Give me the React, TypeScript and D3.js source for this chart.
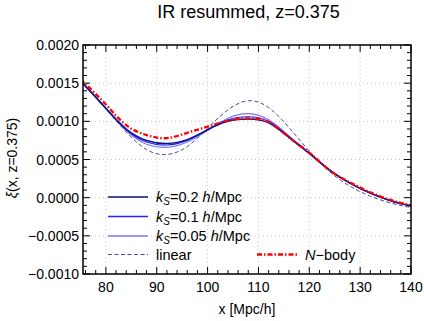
import React from 'react';
import * as d3 from 'd3';

// separation x in Mpc/h
const xs = [75, 76, 80, 84, 88, 92, 96, 100, 104, 108, 112, 116, 120, 124, 128, 132, 136, 140];

// xi(x) for each curve
const ks02 = [0.00151, 0.00146, 0.00117, 0.00090, 0.00075, 0.00071, 0.00076, 0.00089, 0.00100, 0.00103, 0.00098, 0.00079, 0.00058, 0.00036, 0.00019, 0.00006, -0.00004, -0.00011];
const ks01 = [0.00151, 0.00146, 0.00117, 0.00089, 0.00073, 0.00069, 0.00075, 0.00089, 0.00102, 0.00106, 0.00100, 0.00080, 0.00058, 0.00036, 0.00019, 0.00006, -0.00004, -0.00011];
const ks005 = [0.00151, 0.00146, 0.00117, 0.00088, 0.00070, 0.00066, 0.00073, 0.00088, 0.00104, 0.00110, 0.00102, 0.00081, 0.00058, 0.00036, 0.00019, 0.00006, -0.00004, -0.00011];
const linear = [0.00150, 0.00145, 0.00116, 0.00086, 0.00063, 0.000565, 0.00067, 0.00091, 0.00115, 0.00127, 0.00118, 0.00092, 0.00061, 0.00034, 0.00015, 0.00002, -0.00007, -0.00013];
const nbody = [0.00155, 0.00149, 0.00122, 0.00095, 0.00082, 0.00078, 0.00085, 0.00093, 0.00101, 0.00104, 0.00099, 0.00079, 0.00059, 0.00036, 0.00020, 0.00007, -0.00003, -0.00010];

const xTicks = [80, 90, 100, 110, 120, 130, 140];
const yTicks = [-0.001, -0.0005, 0, 0.0005, 0.001, 0.0015, 0.002];

const W = 424;
const H = 321;
const m = { left: 83, top: 45, right: 13, bottom: 47 };
const font = 'Liberation Sans, Arial, Helvetica, sans-serif';

const App = () => {
  const x = d3.scaleLinear().domain([75.5, 140]).range([m.left, W - m.right]);
  const y = d3.scaleLinear().domain([-0.001, 0.002]).range([H - m.bottom, m.top]);
  const x0 = m.left, x1 = W - m.right, y0 = H - m.bottom, y1 = m.top;

  const line = (vals: number[]) =>
    d3.line<number>().x((_, i) => x(xs[i])).y(d => y(d)).curve(d3.curveNatural)(vals) || '';

  const xMinor = d3.range(76, 140.01, 2).filter(v => !xTicks.includes(v));
  const yMinor = d3.range(-10, 20.01, 1).filter(v => v % 5 !== 0).map(v => v * 0.0001);

  const series = [
    { vals: linear, color: '#4848a8', width: 1, dash: '4,2.5' },
    { vals: ks005, color: '#7878ff', width: 1.2, dash: '' },
    { vals: ks01, color: '#2424f0', width: 1.2, dash: '' },
    { vals: ks02, color: '#10108a', width: 1.5, dash: '' },
    { vals: nbody, color: '#ff0000', width: 2.3, dash: '5,2,1.5,2' },
  ];

  const legend = [
    { label: 'ks', ks: '0.2', color: '#10108a', width: 1.5, dash: '', lx: 108, ly: 197 },
    { label: 'ks', ks: '0.1', color: '#2424f0', width: 1.5, dash: '', lx: 108, ly: 216.5 },
    { label: 'ks', ks: '0.05', color: '#7878ff', width: 1.5, dash: '', lx: 108, ly: 236 },
    { label: 'linear', ks: '', color: '#4848a8', width: 1, dash: '4,2.5', lx: 108, ly: 254.5 },
    { label: 'nbody', ks: '', color: '#ff0000', width: 2.3, dash: '5,2,1.5,2', lx: 257, ly: 254.5 },
  ];

  return (
    <svg width={W} height={H} style={{ position: 'absolute', left: 0, top: 0, background: '#fff' }} fontFamily={font}>
      <defs>
        <clipPath id="plot">
          <rect x={x0} y={y1} width={x1 - x0} height={y0 - y1} />
        </clipPath>
      </defs>
      <text x={248.5} y={18} textAnchor="middle" fontSize={18}>IR resummed, z=0.375</text>

      {/* grid */}
      {xTicks.slice(0, -1).map(t => (
        <line key={'gx' + t} x1={x(t)} x2={x(t)} y1={y0} y2={y1} stroke="#c8c8c8" strokeDasharray="1,3" />
      ))}
      {yTicks.slice(1, -1).map(t => (
        <line key={'gy' + t} x1={x0} x2={x1} y1={y(t)} y2={y(t)} stroke="#c8c8c8" strokeDasharray="1,3" />
      ))}

      {/* curves */}
      <g clipPath="url(#plot)" fill="none">
        {series.map((s, i) => (
          <path key={i} d={line(s.vals)} stroke={s.color} strokeWidth={s.width} strokeDasharray={s.dash} />
        ))}
      </g>

      {/* ticks, all four sides, pointing in */}
      <g stroke="#000" strokeWidth={1}>
        {xTicks.map(t => (
          <g key={'tx' + t}>
            <line x1={x(t)} x2={x(t)} y1={y0} y2={y0 - 7} />
            <line x1={x(t)} x2={x(t)} y1={y1} y2={y1 + 7} />
          </g>
        ))}
        {xMinor.map(t => (
          <g key={'mx' + t}>
            <line x1={x(t)} x2={x(t)} y1={y0} y2={y0 - 4} />
            <line x1={x(t)} x2={x(t)} y1={y1} y2={y1 + 4} />
          </g>
        ))}
        {yTicks.map(t => (
          <g key={'ty' + t}>
            <line x1={x0} x2={x0 + 7} y1={y(t)} y2={y(t)} />
            <line x1={x1} x2={x1 - 7} y1={y(t)} y2={y(t)} />
          </g>
        ))}
        {yMinor.map(t => (
          <g key={'my' + t}>
            <line x1={x0} x2={x0 + 4} y1={y(t)} y2={y(t)} />
            <line x1={x1} x2={x1 - 4} y1={y(t)} y2={y(t)} />
          </g>
        ))}
      </g>
      <rect x={x0} y={y1} width={x1 - x0} height={y0 - y1} fill="none" stroke="#000" strokeWidth={1.5} />

      {/* tick labels */}
      {xTicks.map(t => (
        <text key={'lx' + t} x={x(t)} y={292} textAnchor="middle" fontSize={14}>{t}</text>
      ))}
      {yTicks.map(t => (
        <text key={'ly' + t} x={x0 - 4} y={y(t) + 5} textAnchor="end" fontSize={14}>
          {(t < 0 ? '\u2212' : '') + Math.abs(t).toFixed(4)}
        </text>
      ))}

      <text x={247} y={314} textAnchor="middle" fontSize={14}>x [Mpc/h]</text>
      <text transform="translate(17,158) rotate(-90)" textAnchor="middle" fontSize={14}>
        <tspan fontStyle="italic">ξ</tspan>(x, z=0.375)
      </text>

      {/* legend */}
      {legend.map((l, i) => (
        <g key={'lg' + i}>
          <line x1={l.lx} x2={l.lx + 40} y1={l.ly} y2={l.ly} stroke={l.color} strokeWidth={l.width} strokeDasharray={l.dash} />
          <text x={l.lx + 48} y={l.ly + 5} fontSize={14.5}>
            {l.label === 'ks' && (
              <>
                <tspan fontStyle="italic">k</tspan>
                <tspan fontStyle="italic" fontSize={10} dy={3}>S</tspan>
                <tspan dy={-3}>={l.ks} </tspan>
                <tspan fontStyle="italic">h</tspan>
                <tspan>/Mpc</tspan>
              </>
            )}
            {l.label === 'linear' && 'linear'}
            {l.label === 'nbody' && (
              <>
                <tspan fontStyle="italic">N</tspan>
                <tspan>{'\u2212body'}</tspan>
              </>
            )}
          </text>
        </g>
      ))}
    </svg>
  );
};

export default App;
